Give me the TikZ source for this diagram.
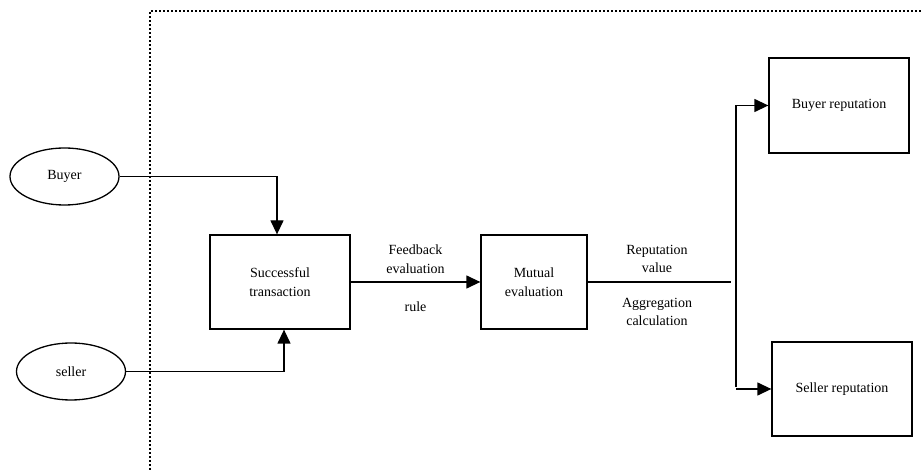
\documentclass[tikz,border=0pt]{standalone}
\usepackage{fontspec}
\setmainfont{Liberation Serif}
\usetikzlibrary{shapes.geometric,arrows.meta}
\begin{document}
\begin{tikzpicture}[x=1pt,y=-1pt,
  every node/.style={font=\fontsize{14}{18.5}\selectfont, align=center},
  party/.style={draw, ellipse, line width=1.3pt, inner sep=0pt, minimum width=109pt, minimum height=57pt},
  procbox/.style={draw, rectangle, line width=1.3pt, inner sep=0pt},
  flow/.style={line width=1.3pt},
  flowarrow/.style={line width=1.3pt, -{Triangle[length=14pt,width=13pt]}},
  lbl/.style={inner sep=0pt},
  boundary/.style={line width=1.3pt, dash pattern=on 2pt off 2pt}]
\useasboundingbox (0,0) rectangle (922,470);

% system boundary
\draw[boundary] (150,470) -- (150,11) -- (922,11);

% participants
\node[party] (buyer) at (64.5,176.5) {Buyer};
\node[party] (seller) at (71,371.5) {seller};

% processing steps
\node[procbox, minimum width=140pt, minimum height=94pt] (trans) at (280,282) {Successful\\transaction};
\node[procbox, minimum width=106pt, minimum height=94pt] (mutual) at (534,282) {Mutual\\evaluation};
\node[procbox, minimum width=140pt, minimum height=95pt] (buyrep) at (839,105.5) {Buyer reputation};
\node[procbox, minimum width=140pt, minimum height=94pt] (selrep) at (842,389) {Seller reputation};

% inputs to the transaction
\draw[flowarrow] (buyer.east) -| ([xshift=-3pt]trans.north);
\draw[flowarrow] (seller.east) -| ([xshift=4pt]trans.south);

% transaction to mutual evaluation
\draw[flowarrow] (trans.east) -- (mutual.west);
\node[lbl] (fb) at (415.5,259) {Feedback\\evaluation};
\node[lbl] (rule) at (415.5,307) {rule};

% aggregation to the two reputations
\coordinate (aggend) at (731,282);
\coordinate (jtop) at (736,105.5);
\coordinate (jbot) at (736,387);
\draw[flow] (mutual.east) -- (aggend);
\node[lbl] (repval) at (657,259) {Reputation\\value};
\node[lbl] (aggcalc) at (657,312) {Aggregation\\calculation};
\draw[flow] (jbot) -- (jtop);
\draw[flowarrow] (jtop) -- (buyrep.west);
\draw[flowarrow] (jbot |- selrep.west) -- (selrep.west);
\end{tikzpicture}
\end{document}
